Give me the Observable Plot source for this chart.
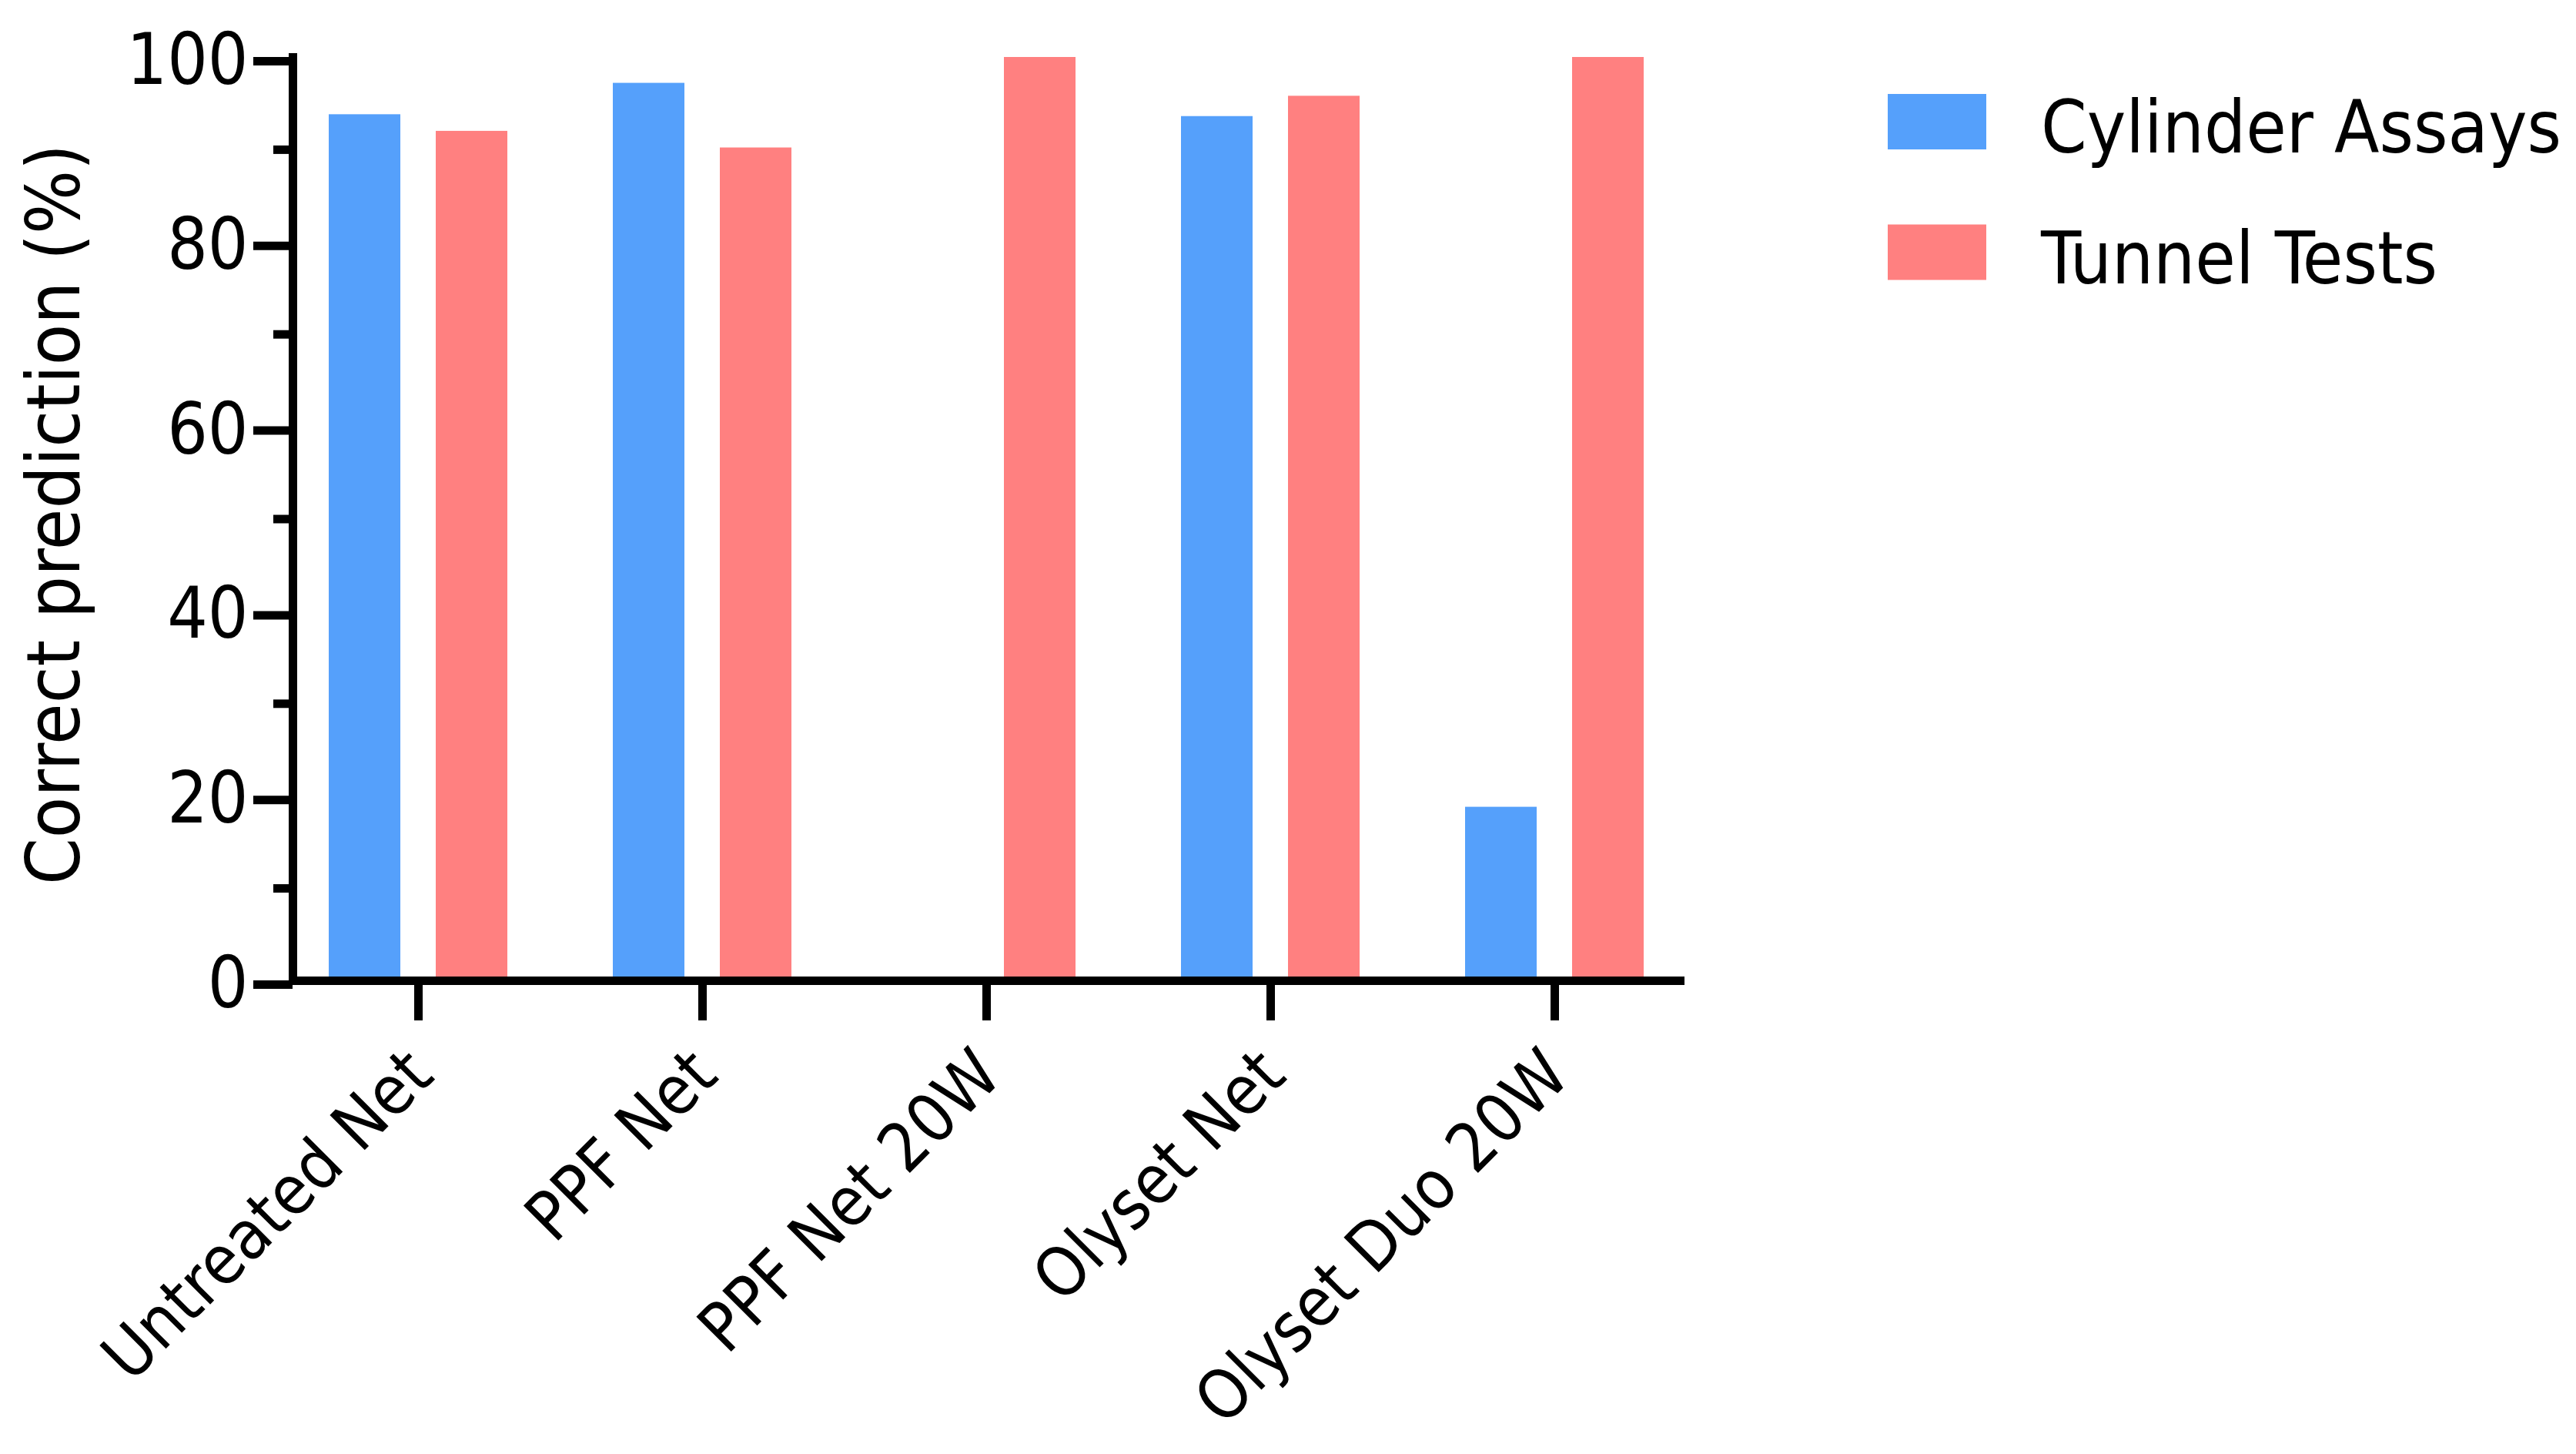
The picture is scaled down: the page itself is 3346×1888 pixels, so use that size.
<!DOCTYPE html>
<html><head><meta charset="utf-8">
<script src="https://cdn.jsdelivr.net/npm/d3@7"></script>
<script src="https://cdn.jsdelivr.net/npm/@observablehq/plot@0.6"></script>
<style>
html,body{margin:0;padding:0;background:#fff;}
#wrap{position:relative;width:3346px;height:1888px;}
#legend{position:absolute;left:0;top:0;pointer-events:none;}
</style></head><body><div id="wrap"></div>
<script>
// ---- data ----
const categories = ["Untreated Net", "PPF Net", "PPF Net 20W", "Olyset Net", "Olyset Duo 20W"];
const series = ["Cylinder Assays", "Tunnel Tests"];
const cylinderAssays = [93.8, 97.2, 0, 93.6, 18.8];
const tunnelTests = [92.0, 90.2, 100, 95.8, 100];
const seriesColors = ["#55a0fb", "#ff8080"];
const yMajorTicks = [0, 20, 40, 60, 80, 100];
const yMinorTicks = [10, 30, 50, 70, 90];
const yLabel = "Correct prediction (%)";

const FONT = "'DejaVu Sans Condensed', 'DejaVu Sans', sans-serif";

const rowsCyl = categories.map((c, i) => ({category: c, series: series[0], value: cylinderAssays[i]}));
const rowsTun = categories.map((c, i) => ({category: c, series: series[1], value: tunnelTests[i]}));

const AXW = 11;

const chart = Plot.plot({
  width: 3346,
  height: 1888,
  marginLeft: 380,
  marginRight: 1164,
  marginTop: 74,
  marginBottom: 615,
  style: {fontFamily: FONT, fontStretch: "condensed", color: "black", background: "white"},
  x: {type: "band", domain: categories, paddingInner: 0.3717, paddingOuter: 0.1259, label: null},
  y: {domain: [0, 100], label: null},
  marks: [
    Plot.barY(rowsCyl, {x: "category", y: "value", fill: seriesColors[0], insetRight: 139}),
    Plot.barY(rowsTun, {x: "category", y: "value", fill: seriesColors[1], insetLeft: 139}),
    Plot.axisY({ticks: yMajorTicks, tickSize: 51, tickPadding: 7, strokeWidth: AXW, fontSize: 92, dy: 5, label: null}),
    Plot.axisY({ticks: yMinorTicks, tickSize: 25, text: null, strokeWidth: AXW, label: null}),
    Plot.axisX({tickSize: 52, text: null, strokeWidth: AXW, label: null}),
    Plot.text(categories, {x: d => d, frameAnchor: "bottom", rotate: -45, textAnchor: "end", lineAnchor: "middle", dx: 3, dy: 107, fontSize: 88}),
    Plot.text([yLabel], {frameAnchor: "left", rotate: -90, textAnchor: "middle", lineAnchor: "top", dx: -346, dy: -6, fontSize: 97}),
    Plot.frame({anchor: "left", strokeWidth: AXW, strokeLinecap: "square"}),
    Plot.frame({anchor: "bottom", strokeWidth: AXW, strokeLinecap: "square"})
  ]
});
document.getElementById("wrap").appendChild(chart);

// ---- legend (HTML overlay) ----
const lg = d3.select("#wrap").append("svg").attr("id", "legend")
  .attr("width", 3346).attr("height", 1888);
const items = lg.selectAll("g").data(series).join("g")
  .attr("transform", (d, i) => `translate(0, ${i * 169.5})`);
items.append("rect").attr("x", 2452).attr("y", 122).attr("width", 128).attr("height", 72)
  .attr("fill", (d, i) => seriesColors[i]);
items.append("text").attr("x", 2651).attr("y", 198)
  .attr("font-family", FONT).attr("font-stretch", "condensed").attr("font-size", 95).attr("fill", "black")
  .text(d => d);
</script>
</body></html>
